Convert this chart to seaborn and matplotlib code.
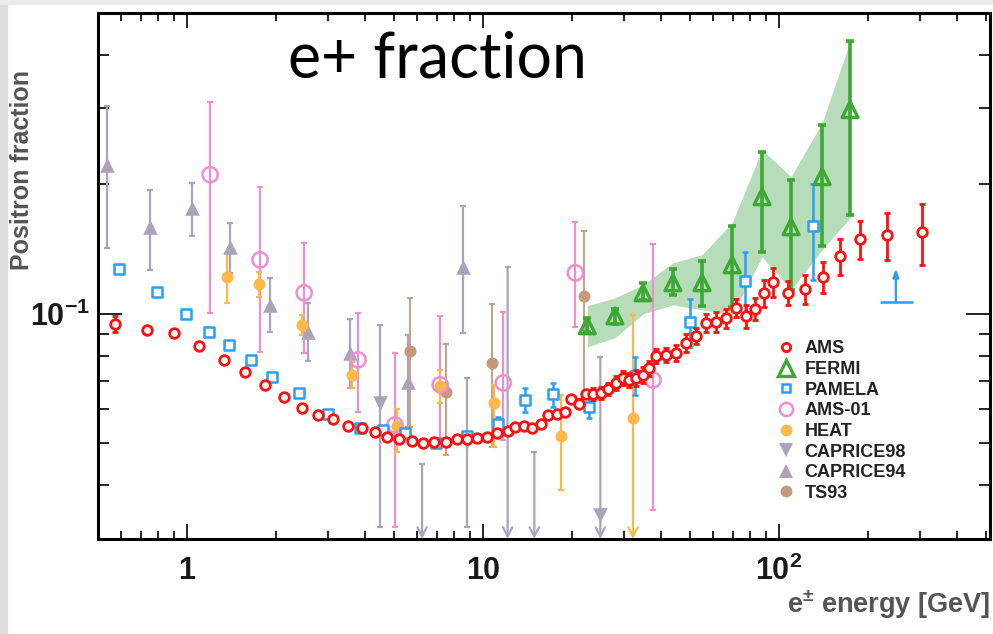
import numpy as np
import matplotlib
matplotlib.use("Agg")
import matplotlib.pyplot as plt
from matplotlib.lines import Line2D
from matplotlib.patches import Rectangle
from matplotlib.ticker import FixedLocator, FixedFormatter, LogLocator, NullFormatter
import seaborn as sns

# values: energy [GeV], positron fraction
ams_e = [0.57, 0.73, 0.90, 1.10, 1.33, 1.57, 1.83, 2.13, 2.45, 2.77, 3.11, 3.50, 3.90, 4.32,
         4.74, 5.20, 5.75, 6.27, 6.83, 7.50, 8.17, 8.83, 9.55, 10.3, 11.1, 12.1, 12.8, 13.7,
         14.6, 15.7, 16.6, 17.8, 18.9, 19.8, 21.1, 22.3, 23.5, 25.0, 26.4, 28.1, 29.7, 31.1,
         32.9, 34.7, 36.4, 38.4, 41.5, 44.9, 48.5, 52.4, 56.7, 61.3, 66.2, 71.6, 77.4, 83.0,
         89.0, 95.4, 107, 122, 141, 161, 188, 232, 304]
ams_f = [0.0948, 0.0918, 0.0903, 0.0843, 0.0782, 0.0733, 0.0684, 0.0641, 0.0604, 0.0582,
         0.0570, 0.0549, 0.0543, 0.0532, 0.0518, 0.0512, 0.0507, 0.0501, 0.0504, 0.0504,
         0.0512, 0.0512, 0.0515, 0.0518, 0.0529, 0.0534, 0.0546, 0.0549, 0.0543, 0.0555,
         0.0582, 0.0585, 0.0592, 0.0634, 0.0618, 0.0652, 0.0652, 0.0655, 0.0669, 0.0691,
         0.0710, 0.0702, 0.0710, 0.0722, 0.0749, 0.0799, 0.0803, 0.0811, 0.0856, 0.0889,
         0.0953, 0.0958, 0.0979, 0.1033, 0.0989, 0.1027, 0.1119, 0.1187, 0.1119, 0.1143,
         0.1219, 0.1364, 0.1494, 0.1527, 0.1551]
ams_err = [0.004] + [0.001] * 33 + \
          [0.0015, 0.0015, 0.002, 0.002, 0.002, 0.0025, 0.0025, 0.0025, 0.003, 0.003, 0.003, 0.003] + \
          [0.003, 0.0035, 0.004, 0.004, 0.0045, 0.005, 0.005, 0.005, 0.006, 0.006, 0.008, 0.009,
           0.007, 0.009, 0.010, 0.013, 0.015, 0.019, 0.025]

fermi_e = [22.5, 27.9, 34.7, 43.8, 54.9, 69.4, 87.6, 109.8, 139.8, 173.7]
fermi_f = [0.0938, 0.0989, 0.1119, 0.1181, 0.1181, 0.130, 0.1871, 0.1593, 0.2083, 0.2982]
fermi_lo = [0.0907, 0.0948, 0.1078, 0.1107, 0.1044, 0.1038, 0.1394, 0.1137, 0.1439, 0.1699]
fermi_hi = [0.0978, 0.1027, 0.1180, 0.1273, 0.1328, 0.1602, 0.2380, 0.2049, 0.2751, 0.4293]
fermi_band_lo = [0.0838, 0.0880, 0.1000, 0.1049, 0.1022, 0.0995, 0.1357, 0.1137, 0.1409, 0.1671]
fermi_band_hi = [0.1044, 0.1089, 0.1168, 0.1314, 0.1372, 0.1628, 0.2406, 0.2083, 0.2781, 0.4293]

pam_e = [0.589, 0.792, 0.99, 1.187, 1.387, 1.645, 1.937, 2.39, 2.995, 3.84, 4.59, 5.45,
         6.94, 8.83, 11.2, 13.9, 17.2, 22.8, 32.6, 50.0, 76.8, 130]
pam_f = [0.1273, 0.1125, 0.100, 0.0908, 0.0847, 0.0782, 0.0714, 0.0655, 0.0585, 0.0543,
         0.0537, 0.0529, 0.0501, 0.0520, 0.0555, 0.0631, 0.0652, 0.0608, 0.0718, 0.0958,
         0.1193, 0.1602]
pam_lo = [0.1265, 0.1118, 0.0993, 0.0902, 0.0841, 0.0777, 0.0709, 0.0650, 0.0580, 0.0538,
          0.0532, 0.0524, 0.0496, 0.0510, 0.0543, 0.0592, 0.0608, 0.0573, 0.0649, 0.0838,
          0.0984, 0.1200]
pam_hi = [0.1281, 0.1132, 0.1007, 0.0914, 0.0853, 0.0787, 0.0719, 0.0660, 0.0590, 0.0548,
          0.0542, 0.0534, 0.0506, 0.0530, 0.0576, 0.0673, 0.0691, 0.0641, 0.0794, 0.1084,
          0.1394, 0.2005]
pam_limit_e, pam_limit_f, pam_limit_top = 248, 0.1066, 0.1273
pam_limit_span = [219, 284]

a01_e = [1.196, 1.764, 2.485, 3.78, 5.04, 7.16, 11.7, 20.5, 37.5]
a01_f = [0.2105, 0.1335, 0.1119, 0.0782, 0.0552, 0.0684, 0.0691, 0.1245, 0.0702]
a01_lo = [0.1005, 0.0816, 0.0811, 0.0592, 0.0320, 0.0504, 0.0509, 0.0933, 0.0350]
a01_hi = [0.3112, 0.1974, 0.1463, 0.1005, 0.0811, 0.0989, 0.1011, 0.1637, 0.1455]

heat_e = [1.365, 1.751, 2.446, 3.61, 5.12, 7.16, 10.9, 18.3, 32.1]
heat_f = [0.1219, 0.1174, 0.0943, 0.0721, 0.0549, 0.0680, 0.0621, 0.0520, 0.0573]
heat_lo = [0.1061, 0.1095, 0.0894, 0.0673, 0.0478, 0.0621, 0.0490, 0.0390]
heat_hi = [0.1386, 0.1252, 0.0995, 0.0773, 0.0601, 0.0741, 0.0684, 0.0648]
heat_limit_e, heat_limit_top = [32.1], [0.0995]

c98_e = [4.49, 8.83, 24.9]
c98_f = [0.0621, 0.0505, 0.0341]
c98_lo = [0.0320, 0.0320]
c98_hi = [0.0943, 0.0710]
c98_limit_e = [6.22, 12.1, 14.9, 24.9]
c98_limit_top = [0.0448, 0.1286, 0.0478, 0.0794]

c94_e = [0.537, 0.750, 1.04, 1.397, 1.907, 2.564, 3.55, 5.58, 8.56]
c94_f = [0.2221, 0.1593, 0.1764, 0.1431, 0.1049, 0.0908, 0.0811, 0.0695, 0.1286]
c94_lo = [0.1424, 0.1266, 0.1518, 0.1245, 0.0908, 0.0777, 0.0673, 0.0546, 0.0903]
c94_hi = [0.3046, 0.1943, 0.2018, 0.1628, 0.1213, 0.1061, 0.0974, 0.0894, 0.1783]

ts_e = [5.67, 7.50, 10.7, 21.9]
ts_f = [0.0820, 0.0659, 0.0769, 0.1101]
ts_lo = [0.0546, 0.0470, 0.0491, 0.0641]
ts_hi = [0.1089, 0.0851, 0.1055, 0.1560]

series_names = ["AMS", "FERMI", "PAMELA", "AMS-01", "HEAT", "CAPRICE98", "CAPRICE94", "TS93"]

c_ams = "#ff1010"
c_fermi = "#3ea834"
c_band = "#b6dcba"
c_pam = "#2a9ef2"
c_a01 = "#f18ed0"
c_heat = "#fdb84a"
c_cap = "#aaa3b9"
c_ts = "#c49a7c"

YMIN, YMAX = 0.03, 0.5

sns.set_theme(style="ticks")
plt.rcParams["font.family"] = ["Liberation Sans", "DejaVu Sans"]
plt.rcParams["font.weight"] = "bold"
plt.rcParams["mathtext.fontset"] = "custom"
plt.rcParams["mathtext.rm"] = "Liberation Sans:bold"
plt.rcParams["mathtext.bf"] = "Liberation Sans:bold"
plt.rcParams["mathtext.it"] = "Liberation Sans:bold"

fig, ax = plt.subplots(figsize=(9.93, 6.34), dpi=100)
fig.subplots_adjust(left=0.0987, right=0.997, bottom=0.150, top=0.9795)
ax.set_xscale("log")
ax.set_yscale("log")

# screenshot edge strips
fig.patches.append(Rectangle((0, 0), 7 / 993, 1, transform=fig.transFigure,
                             color="#dcdcdc", zorder=-5))
fig.patches.append(Rectangle((0, 1 - 4 / 634), 1, 4 / 634, transform=fig.transFigure,
                             color="#ebebeb", zorder=-5))


def bars(e, f, lo, hi, color, lw=1.6, cap=2.2, z=2):
    f = np.asarray(f[:len(lo)])
    ax.errorbar(e[:len(lo)], f, yerr=[f - np.asarray(lo), np.asarray(hi) - f], fmt="none",
                ecolor=color, elinewidth=lw, capsize=cap, capthick=lw, zorder=z)


def limit(e, top, color, z=2):
    # upper limits: line from the top value down to the axis, open arrow head
    for x, t in zip(e, top):
        ax.annotate("", xy=(x, YMIN), xytext=(x, t),
                    arrowprops=dict(arrowstyle="->,head_length=0.55,head_width=0.28",
                                    color=color, lw=1.6, shrinkA=0, shrinkB=0), zorder=z)
    ax.plot(e, top, ls="none", marker="_", ms=5, mew=1.6, color=color, zorder=z)


# FERMI systematic band
ax.fill_between(fermi_e, fermi_band_lo, fermi_band_hi, color=c_band, lw=0, zorder=1)

# error bars
bars(c94_e, c94_f, c94_lo, c94_hi, c_cap)
bars(c98_e, c98_f, c98_lo, c98_hi, c_cap)
limit(c98_limit_e, c98_limit_top, c_cap)
bars(ts_e, ts_f, ts_lo, ts_hi, c_ts, lw=1.3)
bars(a01_e, a01_f, a01_lo, a01_hi, c_a01)
bars(heat_e, heat_f, heat_lo, heat_hi, c_heat)
limit(heat_limit_e, heat_limit_top, c_heat)
bars(pam_e, pam_f, pam_lo, pam_hi, c_pam, lw=1.8, z=3)
ax.errorbar([pam_limit_e], [pam_limit_f],
            xerr=[[pam_limit_e - pam_limit_span[0]], [pam_limit_span[1] - pam_limit_e]],
            fmt="none", ecolor=c_pam, elinewidth=1.8, capsize=0, zorder=3)
ax.annotate("", xy=(pam_limit_e, pam_limit_top), xytext=(pam_limit_e, pam_limit_f),
            arrowprops=dict(arrowstyle="-|>,head_length=0.4,head_width=0.15", color=c_pam,
                            lw=1.6, shrinkA=0, shrinkB=0))
bars(fermi_e, fermi_f, fermi_lo, fermi_hi, c_fermi, lw=2.6, cap=3, z=4)
ax.errorbar(ams_e, ams_f, yerr=ams_err, fmt="none", ecolor=c_ams, elinewidth=2,
            capsize=2.2, capthick=2, zorder=5)

# markers
sns.scatterplot(x=c94_e, y=c94_f, marker="^", s=110, color=c_cap, edgecolor=c_cap,
                linewidth=0, ax=ax, zorder=3)
sns.scatterplot(x=c98_e, y=c98_f, marker="v", s=110, color=c_cap, edgecolor=c_cap,
                linewidth=0, ax=ax, zorder=3)
sns.scatterplot(x=ts_e, y=ts_f, marker="o", s=75, color=c_ts, edgecolor=c_ts,
                linewidth=0, ax=ax, zorder=3)
sns.scatterplot(x=heat_e, y=heat_f, marker="o", s=75, color=c_heat, edgecolor=c_heat,
                linewidth=0, ax=ax, zorder=3)
sns.scatterplot(x=a01_e, y=a01_f, marker="o", s=120, color=c_a01, facecolor="none",
                edgecolor=c_a01, linewidth=1.8, ax=ax, zorder=3)
sns.scatterplot(x=pam_e, y=pam_f, marker="s", s=42, color=c_pam, facecolor="white",
                edgecolor=c_pam, linewidth=1.8, ax=ax, zorder=4)
sns.scatterplot(x=fermi_e, y=fermi_f, marker="^", s=130, color=c_fermi, facecolor="none",
                edgecolor=c_fermi, linewidth=2.4, ax=ax, zorder=4)
sns.scatterplot(x=ams_e, y=ams_f, marker="o", s=48, color=c_ams, facecolor="white",
                edgecolor=c_ams, linewidth=2, ax=ax, zorder=6)

# axes
ax.set_xlim(0.5, 516)
ax.set_ylim(YMIN, YMAX)
ax.set_xlabel("")
ax.set_ylabel("")
ax.xaxis.set_major_locator(FixedLocator([1, 10, 100]))
ax.xaxis.set_major_formatter(FixedFormatter(["1", "10", r"$\mathbf{10^{2}}$"]))
ax.xaxis.set_minor_locator(LogLocator(base=10, subs=np.arange(2, 10), numticks=20))
ax.xaxis.set_minor_formatter(NullFormatter())
ax.yaxis.set_major_locator(FixedLocator([0.1]))
ax.yaxis.set_major_formatter(FixedFormatter([r"$\mathbf{10^{-1}}$"]))
ax.yaxis.set_minor_locator(LogLocator(base=10, subs=np.arange(2, 10), numticks=20))
ax.yaxis.set_minor_formatter(NullFormatter())
ax.tick_params(which="both", direction="in", top=True, right=True, width=1.3,
               color="#111111", labelcolor="#1a1a1a")
ax.tick_params(axis="x", which="major", length=11, pad=12, labelsize=22)
ax.tick_params(axis="x", which="minor", length=5.5)
ax.tick_params(axis="y", which="major", length=17, pad=6, labelsize=22)
ax.tick_params(axis="y", which="minor", length=8)
for s in ax.spines.values():
    s.set_linewidth(2.2)
    s.set_color("black")

# legend
handles = [
    Line2D([], [], ls="none", marker="o", ms=6, mfc="white", mec=c_ams, mew=2),
    Line2D([], [], ls="none", marker="^", ms=11, mfc="none", mec=c_fermi, mew=2.4),
    Line2D([], [], ls="none", marker="s", ms=6, mfc="white", mec=c_pam, mew=1.8),
    Line2D([], [], ls="none", marker="o", ms=9.5, mfc="none", mec=c_a01, mew=1.8),
    Line2D([], [], ls="none", marker="o", ms=8.5, mfc=c_heat, mec=c_heat, mew=0),
    Line2D([], [], ls="none", marker="v", ms=9.5, mfc=c_cap, mec=c_cap, mew=0),
    Line2D([], [], ls="none", marker="^", ms=9.5, mfc=c_cap, mec=c_cap, mew=0),
    Line2D([], [], ls="none", marker="o", ms=8.5, mfc=c_ts, mec=c_ts, mew=0),
]
leg = ax.legend(handles, series_names, loc="upper left", bbox_to_anchor=(0.782, 0.463),
                bbox_transform=fig.transFigure, frameon=False, borderpad=0, borderaxespad=0,
                handlelength=1.0, handletextpad=0.55, labelspacing=0.2,
                prop={"family": "Liberation Sans", "weight": "bold", "size": 13})
for t in leg.get_texts():
    t.set_color("#222222")

# texts
fig.text(0.290, 0.878, "e+ fraction", fontsize=45, family=["Lato", "DejaVu Sans"],
         weight="normal", color="black", va="baseline")
fig.text(0.997, 0.046, r"e$^{\pm}$ energy [GeV]", ha="right", va="center",
         fontsize=19.5, color="#555555")
fig.text(0.022, 0.732, "Positron fraction", rotation=90, ha="center", va="center",
         fontsize=18, color="#555555")

fig.savefig("out.png", dpi=100)
